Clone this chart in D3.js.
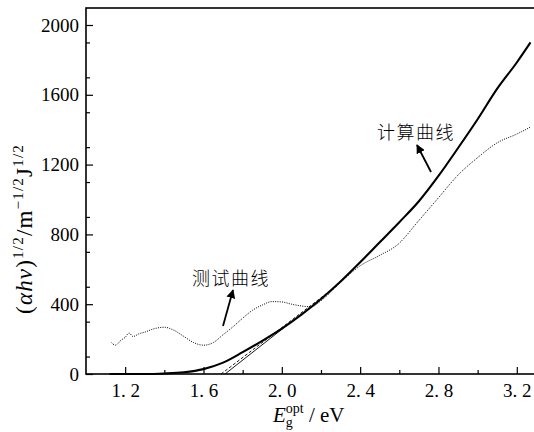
<!DOCTYPE html>
<html>
<head>
<meta charset="utf-8">
<script src="https://cdn.jsdelivr.net/npm/d3@7"></script>
<style>
  body { margin: 0; background: #fff; }
  svg { display: block; }
</style>
</head>
<body>
<svg id="chart" width="534" height="432"></svg>
<script>
// computed curve (photon energy in eV, value)
const calcE = [1.12, 1.3, 1.4, 1.5, 1.6, 1.7, 1.8, 1.9, 2.0, 2.1, 2.2, 2.3, 2.4, 2.5, 2.6, 2.7, 2.8, 2.9, 3.0, 3.1, 3.2, 3.27];
const calcV = [0, 0, 3, 10, 28, 65, 125, 190, 260, 340, 430, 530, 640, 755, 870, 990, 1135, 1295, 1460, 1635, 1785, 1900];

// measured curve
const testE = [1.13, 1.15, 1.18, 1.2, 1.22, 1.24, 1.27, 1.3, 1.35, 1.4, 1.45, 1.5, 1.55, 1.6, 1.65, 1.7, 1.75, 1.8, 1.85, 1.9, 1.95, 2.0, 2.05, 2.1, 2.15, 2.2, 2.3, 2.4, 2.5, 2.59, 2.7, 2.8, 2.9, 3.0, 3.1, 3.2, 3.27];
const testV = [180, 165, 195, 210, 235, 215, 230, 240, 260, 268, 250, 215, 180, 165, 180, 225, 270, 320, 365, 395, 415, 413, 400, 390, 385, 420, 525, 620, 680, 740, 880, 1010, 1140, 1240, 1325, 1375, 1415];

// linear extrapolation lines near the absorption edge
const fitAE = [1.69, 2.25], fitAV = [0, 480];
const fitBE = [1.71, 2.05], fitBV = [0, 300];

const xMajor = [1.2, 1.6, 2.0, 2.4, 2.8, 3.2];
const xMinor = [1.4, 1.8, 2.2, 2.6, 3.0];
const yMajor = [0, 400, 800, 1200, 1600, 2000];
const yMinor = d3.range(100, 2100, 200);

const svg = d3.select("#chart");
const pLeft = 86, pRight = 540, pTop = 8, pBottom = 374;
const serif = "'Liberation Serif', 'Times New Roman', serif";

const x = d3.scaleLinear().domain([1.0, 3.3185]).range([pLeft, pRight]);
const y = d3.scaleLinear().domain([0, 2097.4]).range([pBottom, pTop]);

// frame
svg.append("rect")
  .attr("x", pLeft).attr("y", pTop)
  .attr("width", pRight - pLeft).attr("height", pBottom - pTop)
  .attr("fill", "none").attr("stroke", "#000").attr("stroke-width", 1.6);

// x axis
const gx = svg.append("g").attr("transform", `translate(0,${pBottom})`);
gx.call(d3.axisBottom(x).tickValues(xMajor).tickSize(-7).tickPadding(10)
    .tickFormat(d => d3.format(".1f")(d).replace(".", ". ")));
gx.append("g").call(d3.axisBottom(x).tickValues(xMinor).tickSize(-4).tickFormat(""));

// y axis
const gy = svg.append("g").attr("transform", `translate(${pLeft},0)`);
gy.call(d3.axisLeft(y).tickValues(yMajor).tickSize(-7).tickPadding(7).tickFormat(d3.format("d")));
gy.append("g").call(d3.axisLeft(y).tickValues(yMinor).tickSize(-4).tickFormat(""));

[gx, gy].forEach(g => {
  g.selectAll(".domain").remove();
  g.selectAll("line").attr("stroke-width", 1.2);
  g.attr("font-family", serif).attr("font-size", 19);
  g.selectAll("text").attr("font-family", serif).attr("font-size", 19).attr("fill", "#000");
});

const line = d3.line().x(d => x(d[0])).y(d => y(d[1]));

// fit lines
svg.append("path")
  .attr("d", line(d3.zip(fitBE, fitBV)))
  .attr("fill", "none").attr("stroke", "#000").attr("stroke-width", 0.9);
svg.append("path")
  .attr("d", line(d3.zip(fitAE, fitAV)))
  .attr("fill", "none").attr("stroke", "#000").attr("stroke-width", 0.9)
  .attr("stroke-dasharray", "3,2");

// measured curve (dotted)
svg.append("path")
  .attr("d", line.curve(d3.curveMonotoneX)(d3.zip(testE, testV)))
  .attr("fill", "none").attr("stroke", "#000").attr("stroke-width", 1)
  .attr("stroke-dasharray", "1,1.3");

// computed curve
svg.append("path")
  .attr("d", line.curve(d3.curveMonotoneX)(d3.zip(calcE, calcV)))
  .attr("fill", "none").attr("stroke", "#000").attr("stroke-width", 2.1);

// annotations
const defs = svg.append("defs");
defs.append("marker").attr("id", "arr")
  .attr("viewBox", "0 0 10 10").attr("refX", 9).attr("refY", 5)
  .attr("markerWidth", 9).attr("markerHeight", 9).attr("markerUnits", "userSpaceOnUse")
  .attr("orient", "auto")
  .append("path").attr("d", "M0,0L10,5L0,10Z").attr("fill", "#000");

const notes = [
  {text: "测试曲线", tx: 231, ty: 285, x1: 223, y1: 326, x2: 233, y2: 290},
  {text: "计算曲线", tx: 416, ty: 139, x1: 431, y1: 172, x2: 417, y2: 145}
];
notes.forEach(n => {
  svg.append("text").attr("x", n.tx).attr("y", n.ty)
    .attr("text-anchor", "middle")
    .style("font-family", "'Noto Sans CJK SC', sans-serif").style("font-size", "18px")
    .style("font-weight", 300).style("letter-spacing", "1.5px")
    .text(n.text);
  svg.append("line").attr("x1", n.x1).attr("y1", n.y1).attr("x2", n.x2).attr("y2", n.y2)
    .attr("stroke", "#000").attr("stroke-width", 1.8).attr("marker-end", "url(#arr)");
});

// axis titles
const xt = svg.append("text").attr("x", 273).attr("y", 422)
  .style("font-family", serif).style("font-size", "21px");
xt.append("tspan").style("font-style", "italic").text("E");
xt.append("tspan").attr("dy", 5).style("font-size", "14px").text("g");
xt.append("tspan").attr("dy", -14).attr("dx", -7).style("font-size", "14px").text("opt");
xt.append("tspan").attr("dy", 9).text(" / eV");

const yt = svg.append("text")
  .attr("transform", "translate(32,229) rotate(-90)")
  .attr("text-anchor", "middle")
  .style("font-family", serif).style("font-size", "23px").style("letter-spacing", "1.2px");
yt.append("tspan").text("(");
yt.append("tspan").style("font-style", "italic").text("αhν");
yt.append("tspan").text(")");
yt.append("tspan").attr("dy", -9).style("font-size", "15px").text("1/2");
yt.append("tspan").attr("dy", 9).text("/m");
yt.append("tspan").attr("dy", -9).style("font-size", "15px").text("−1/2");
yt.append("tspan").attr("dy", 9).text("J");
yt.append("tspan").attr("dy", -9).style("font-size", "15px").text("1/2");
</script>
</body>
</html>
